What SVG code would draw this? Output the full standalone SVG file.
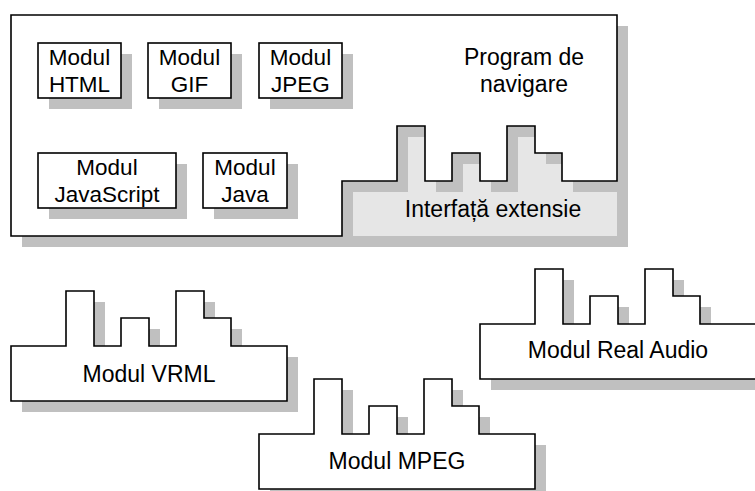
<svg xmlns="http://www.w3.org/2000/svg" xmlns:xlink="http://www.w3.org/1999/xlink" width="755" height="491" viewBox="0 0 755 491">
<defs>
<style>
.sh{fill:#c0c0c0;stroke:none}
.bx{fill:#ffffff;stroke:#000000;stroke-width:1.6}
.lt{fill:#e6e6e6;stroke:none}
text{font-family:"Liberation Sans",Arial,sans-serif;font-size:23px;fill:#000000;text-anchor:middle}
text.s{font-size:22.5px}
</style>
<path id="plug" d="M0,55 H55 V0 H83 V55 H110 V27 H138 V55 H165 V0 H193 V27 H220 V55 H276 V110 H0 Z"/>
</defs>
<rect width="755" height="491" fill="#ffffff"/>

<g id="browser">
<rect class="sh" x="22" y="26" width="606" height="221"/>
<rect class="lt" x="342" y="126" width="275" height="110"/>
<path class="sh" transform="translate(11,11)" d="M11,15 H617 V181 H562 V153 H535 V126 H507 V181 H480 V153 H452 V181 H425 V126 H397 V181 H342 V236 H11 Z"/>
<path class="bx" d="M11,15 H617 V181 H562 V153 H535 V126 H507 V181 H480 V153 H452 V181 H425 V126 H397 V181 H342 V236 H11 Z"/>
<text x="524" y="65">Program de</text>
<text x="524" y="92">navigare</text>
</g>

<g id="interface">
<text x="493" y="217">Interfață extensie</text>
</g>

<g id="html">
<rect class="sh" x="49" y="54" width="83" height="55"/>
<rect class="bx" x="38" y="43" width="83" height="55"/>
<text class="s" x="79.5" y="65">Modul</text>
<text class="s" x="79.5" y="92">HTML</text>
</g>
<g id="gif">
<rect class="sh" x="159" y="54" width="83" height="55"/>
<rect class="bx" x="148" y="43" width="83" height="55"/>
<text class="s" x="189.5" y="65">Modul</text>
<text class="s" x="189.5" y="92">GIF</text>
</g>
<g id="jpeg">
<rect class="sh" x="270" y="54" width="83" height="55"/>
<rect class="bx" x="259" y="43" width="83" height="55"/>
<text class="s" x="300.5" y="65">Modul</text>
<text class="s" x="300.5" y="92">JPEG</text>
</g>
<g id="javascript">
<rect class="sh" x="49" y="164" width="138" height="55"/>
<rect class="bx" x="38" y="153" width="138" height="55"/>
<text class="s" x="107" y="175">Modul</text>
<text class="s" x="107" y="202">JavaScript</text>
</g>
<g id="java">
<rect class="sh" x="214" y="164" width="84" height="55"/>
<rect class="bx" x="203" y="153" width="84" height="55"/>
<text class="s" x="245" y="175">Modul</text>
<text class="s" x="245" y="202">Java</text>
</g>

<g id="vrml">
<use xlink:href="#plug" href="#plug" class="sh" x="22" y="302"/>
<use xlink:href="#plug" href="#plug" class="bx" x="11" y="291"/>
<text x="149" y="382">Modul VRML</text>
</g>
<g id="mpeg">
<use xlink:href="#plug" href="#plug" class="sh" x="270" y="390"/>
<use xlink:href="#plug" href="#plug" class="bx" x="259" y="379"/>
<text x="397" y="469">Modul MPEG</text>
</g>
<g id="realaudio">
<use xlink:href="#plug" href="#plug" class="sh" x="491" y="280"/>
<use xlink:href="#plug" href="#plug" class="bx" x="480" y="269"/>
<text x="618" y="358">Modul Real Audio</text>
</g>

<g id="connectors"/>
</svg>
